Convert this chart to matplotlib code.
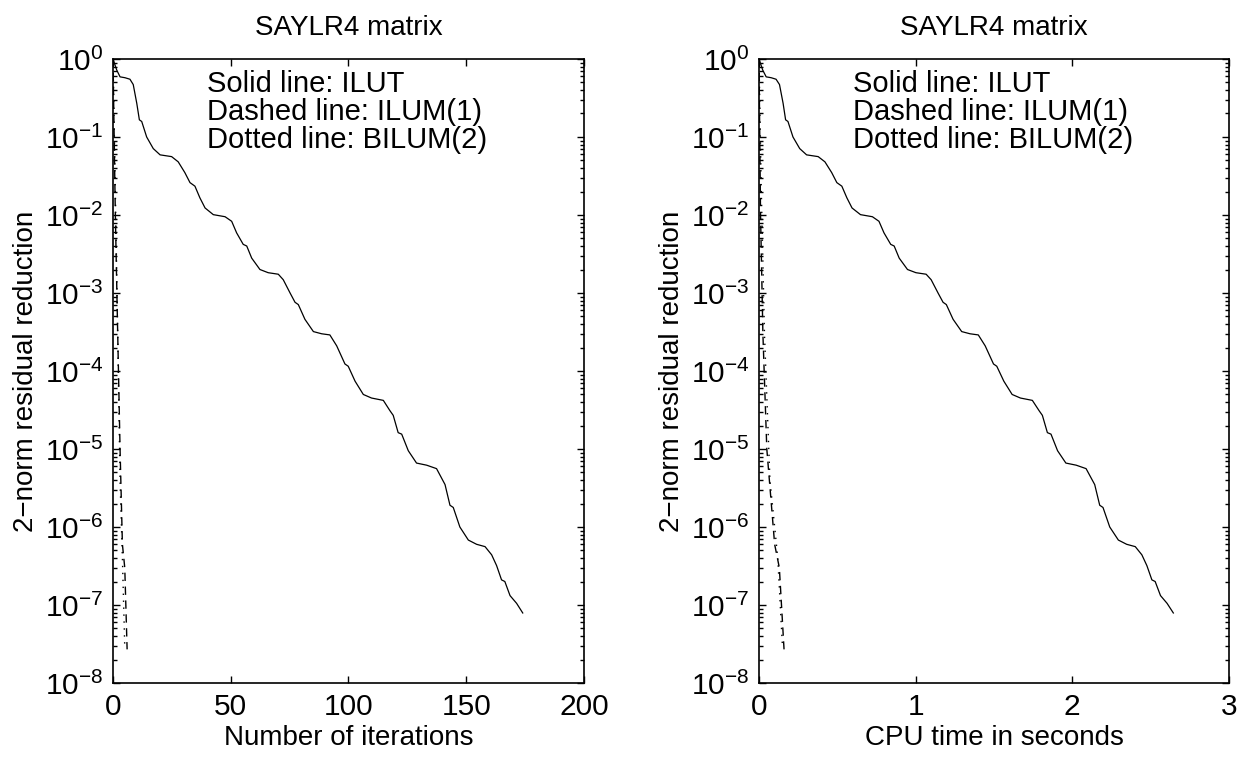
import matplotlib
matplotlib.use("Agg")
import matplotlib.pyplot as plt
from matplotlib.ticker import LogLocator, NullFormatter

plt.rcParams['font.family'] = ['Liberation Sans', 'DejaVu Sans']
plt.rcParams['mathtext.fontset'] = 'custom'
plt.rcParams['mathtext.rm'] = 'Liberation Sans'
plt.rcParams['mathtext.it'] = 'Liberation Sans'

# ILUT (solid)
ilut_iter = [0, 1.6, 3.0, 5.1, 7.2, 8.6, 10.1, 11.2, 12.2, 14.3, 17.1, 20.0, 24.9,
             27.7, 30.5, 32.7, 34.8, 36.9, 39.1, 42.6, 47.6, 50.4, 52.5, 55.3, 56.8,
             58.9, 62.4, 65.9, 70.2, 72.3, 75.2, 77.3, 78.7, 81.5, 85.1, 88.6, 92.1,
             95.0, 98.5, 99.9, 102.8, 106.3, 109.8, 114.8, 117.6, 119.0, 121.1, 122.6,
             125.4, 128.9, 133.2, 137.4, 141.0, 143.1, 144.5, 147.3, 150.9, 154.4,
             158.0, 160.8, 162.9, 165.0, 166.4, 168.6, 171.4, 174.0]
ilut_time = [0.0, 0.024, 0.046, 0.078, 0.109, 0.131, 0.154, 0.170, 0.185, 0.217, 0.260,
             0.304, 0.378, 0.421, 0.464, 0.497, 0.529, 0.561, 0.594, 0.648, 0.724,
             0.766, 0.798, 0.841, 0.863, 0.895, 0.948, 1.002, 1.067, 1.099, 1.143,
             1.175, 1.196, 1.239, 1.294, 1.347, 1.400, 1.444, 1.497, 1.518, 1.563,
             1.616, 1.669, 1.745, 1.788, 1.809, 1.841, 1.864, 1.906, 1.959, 2.025,
             2.088, 2.143, 2.175, 2.196, 2.239, 2.294, 2.347, 2.402, 2.444, 2.476,
             2.508, 2.529, 2.563, 2.605, 2.645]
ilut_res = [1.0, 0.72, 0.59, 0.575, 0.55, 0.47, 0.27, 0.166, 0.158, 0.10, 0.071, 0.059,
            0.056, 0.048, 0.035, 0.026, 0.0234, 0.0166, 0.0123, 0.0101, 0.0095, 0.0083,
            0.0059, 0.0042, 0.0040, 0.0028, 0.0020, 0.00182, 0.00174, 0.00148, 0.0010,
            7.6e-4, 7.1e-4, 4.6e-4, 3.2e-4, 3.0e-4, 2.9e-4, 2.1e-4, 1.23e-4, 1.15e-4,
            7.4e-5, 5.0e-5, 4.5e-5, 4.2e-5, 3.1e-5, 2.7e-5, 1.62e-5, 1.55e-5, 9.5e-6,
            6.6e-6, 6.2e-6, 5.6e-6, 3.5e-6, 1.9e-6, 1.78e-6, 1.0e-6, 6.8e-7, 6.0e-7,
            5.6e-7, 4.4e-7, 3.2e-7, 2.1e-7, 2.0e-7, 1.32e-7, 1.05e-7, 7.9e-8]

# ILUM(1) (dashed)
ilum_iter = [0, 1, 2, 3, 4, 5, 6]
ilum_time = [0.0, 0.01, 0.025, 0.05, 0.10, 0.13, 0.16]
ilum_res = [1.0, 1e-2, 3e-4, 1e-5, 6e-7, 3e-7, 2.7e-8]

# BILUM(2) (dotted)
bilum_iter = [0, 1, 2, 3, 4, 5]
bilum_time = [0.0, 0.015, 0.035, 0.07, 0.12, 0.15]
bilum_res = [1.0, 2e-2, 3e-4, 4e-6, 4e-7, 2.9e-8]

y_ticks = [1e-8, 1e-7, 1e-6, 1e-5, 1e-4, 1e-3, 1e-2, 1e-1, 1.0]

fig = plt.figure(figsize=(12.43, 7.61), dpi=100)
ax1 = fig.add_axes([0.0909, 0.1025, 0.3789, 0.82])
ax2 = fig.add_axes([0.6106, 0.1025, 0.3781, 0.82])

panels = [
    (ax1, ilut_iter, ilum_iter, bilum_iter, (0, 200), [0, 50, 100, 150, 200], "Number of iterations"),
    (ax2, ilut_time, ilum_time, bilum_time, (0, 3), [0, 1, 2, 3], "CPU time in seconds"),
]

for ax, xs, xd, xb, xlim, xt, xlabel in panels:
    ax.semilogy(xs, ilut_res, 'k-', lw=0.9)
    ax.semilogy(xd, ilum_res, 'k', ls=(0, (6, 4)), lw=1.0)
    ax.semilogy(xb, bilum_res, 'k', ls=(0, (1, 4)), lw=1.0)
    ax.set_xlim(*xlim)
    ax.set_ylim(1e-8, 1)
    ax.set_xticks(xt)
    ax.set_yticks(y_ticks)
    ax.yaxis.set_minor_locator(LogLocator(base=10, subs=range(2, 10), numticks=20))
    ax.yaxis.set_minor_formatter(NullFormatter())
    ax.set_ylim(1e-8, 1)
    ax.tick_params(which='both', direction='in', top=True, right=True,
                   labelsize=21.5, width=1.0)
    ax.tick_params(which='major', length=5, pad=7)
    ax.tick_params(which='minor', length=3)
    for s in ax.spines.values():
        s.set_linewidth(1.2)
    ax.set_title("SAYLR4 matrix", fontsize=20, pad=17)
    ax.set_xlabel(xlabel, fontsize=20, labelpad=3)
    ax.set_ylabel("2\u2212norm residual reduction", fontsize=20, labelpad=4)
    ax.text(0.2, 0.947, "Solid line: ILUT", transform=ax.transAxes, fontsize=21, va='baseline')
    ax.text(0.2, 0.902, "Dashed line: ILUM(1)", transform=ax.transAxes, fontsize=21, va='baseline')
    ax.text(0.2, 0.857, "Dotted line: BILUM(2)", transform=ax.transAxes, fontsize=21, va='baseline')

fig.savefig("out.png", dpi=100)
